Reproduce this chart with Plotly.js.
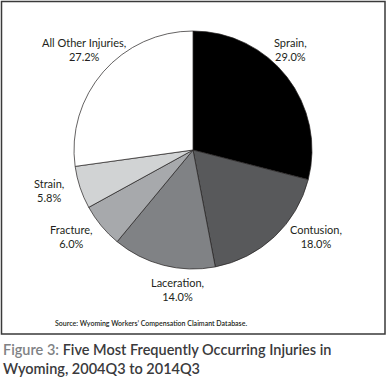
<!DOCTYPE html>
<html>
<head>
<meta charset="utf-8">
<script src="https://cdn.plot.ly/plotly-3.0.1.min.js"></script>
<style>html,body{margin:0;padding:0;background:#fff;}#chart{width:388px;height:390px;}</style>
</head>
<body>
<div id="chart"></div>
<script>
var categories = ["Sprain", "Contusion", "Laceration", "Fracture", "Strain", "All Other Injuries"];
var shares = [29.0, 18.0, 14.0, 6.0, 5.8, 27.2];
var sliceColors = ["#000000", "#58595b", "#808285", "#a7a9ac", "#d1d3d4", "#ffffff"];
var sourceNote = "Source: Wyoming Workers\u2019 Compensation Claimant Database.";
var captionLead = "Figure 3:";
var captionRest = "Five Most Frequently Occurring Injuries in<br>Wyoming, 2004Q3 to 2014Q3";

var W = 388, H = 390;
function px(x) { return x / W; }
function py(y) { return 1 - y / H; }

// label anchor pixel positions (center of two-line label)
var labelPos = [[290, 49], [316, 237], [177, 289], [71, 237], [49, 190], [84, 49]];

var annotations = categories.map(function (c, i) {
  return {
    x: px(labelPos[i][0]), y: py(labelPos[i][1]), xref: "paper", yref: "paper",
    xanchor: "center", yanchor: "middle", showarrow: false, align: "center",
    text: c + ",<br>" + shares[i].toFixed(1) + "%",
    font: {family: "Lato, 'Open Sans', sans-serif", size: 11, color: "#231f20"}
  };
});
annotations.push({
  x: px(53), y: py(323), xref: "paper", yref: "paper", xanchor: "left", yanchor: "middle",
  showarrow: false, text: sourceNote,
  font: {family: "Lato, sans-serif", size: 7, color: "#231f20", weight: 600}
});
annotations.push({
  x: px(1), y: py(339), xref: "paper", yref: "paper", xanchor: "left", yanchor: "top",
  showarrow: false, align: "left",
  text: '<span style="color:#808285">' + captionLead + '</span> ' + captionRest,
  font: {family: "Lato, 'Open Sans', sans-serif", size: 14.5, color: "#3a3a3c", weight: 600}
});

var data = [{
  type: "pie",
  labels: categories,
  values: shares,
  sort: false,
  direction: "clockwise",
  rotation: 0,
  textinfo: "none",
  hoverinfo: "label+percent",
  marker: {colors: sliceColors, line: {color: "#231f20", width: 0.7}},
  domain: {x: [px(74), px(312)], y: [py(269), py(31)]},
  showlegend: false
}];

var layout = {
  width: W, height: H,
  margin: {l: 0, r: 0, t: 0, b: 0},
  paper_bgcolor: "#ffffff",
  showlegend: false,
  annotations: annotations,
  shapes: [{
    type: "rect", xref: "paper", yref: "paper",
    x0: px(1.5), x1: px(385), y0: py(1.5), y1: py(334),
    line: {color: "#3a3a3a", width: 1.5}, fillcolor: "rgba(0,0,0,0)"
  }]
};

Plotly.newPlot("chart", data, layout, {displayModeBar: false, staticPlot: true});
</script>
</body>
</html>
